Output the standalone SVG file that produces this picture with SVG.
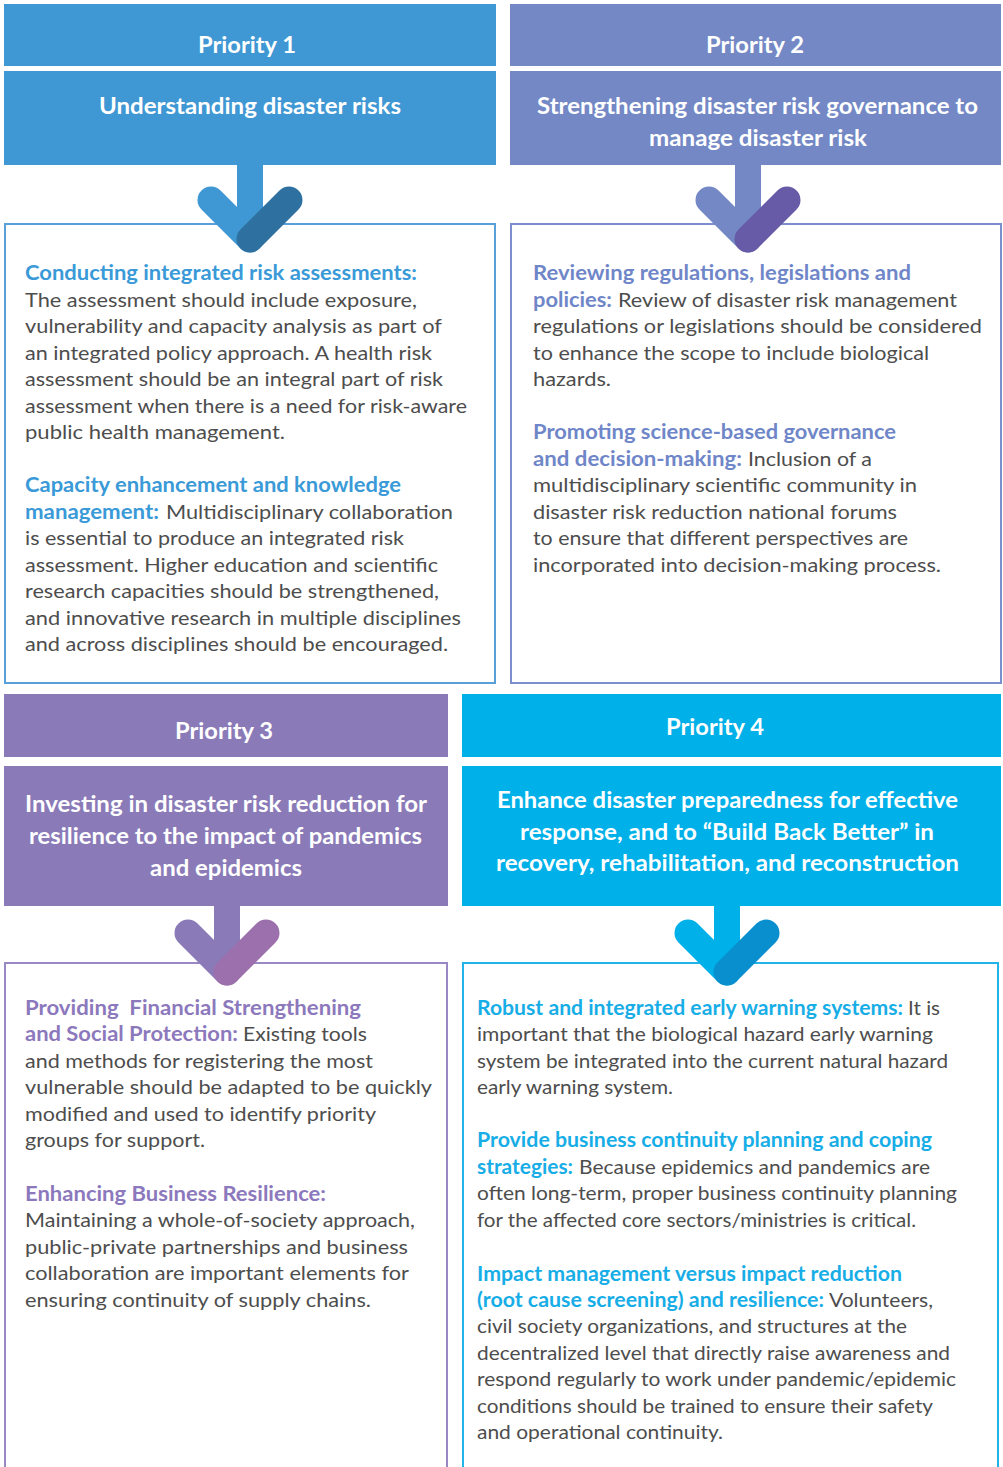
<svg xmlns="http://www.w3.org/2000/svg" width="1003" height="1467" viewBox="0 0 1003 1467">
<style>
text{font-family:Lato,"Noto Sans","Liberation Sans",sans-serif}
.h{font-weight:700;font-size:22px;fill:#ffffff}
.b{font-size:20px;fill:#4d4d4d}
.s{font-size:20px;font-weight:700}
.c1{fill:#3a9ad8}.c2{fill:#6f86c8}.c3{fill:#8c78bc}.c4{fill:#17ade6}
.box{fill:#ffffff;stroke-width:2}
.arm{fill:none;stroke-width:27;stroke-linecap:round;stroke-linejoin:round}
.stem{fill:none;stroke-width:26;stroke-linecap:butt}
</style>
<rect width="1003" height="1467" fill="#ffffff"/>

<g id="priority1">
<rect x="4" y="4" width="492" height="62" fill="#3f97d3"/>
<rect x="4" y="71" width="492" height="94" fill="#3f97d3"/>
<text class="h" x="198" y="53" textLength="98" lengthAdjust="spacingAndGlyphs">Priority 1</text>
<text class="h" x="99" y="114" textLength="302" lengthAdjust="spacingAndGlyphs">Understanding disaster risks</text>
<rect class="box" x="5" y="224" width="490" height="459" stroke="#5aa0d8"/>
<text class="s c1" x="25" y="280" textLength="392" lengthAdjust="spacingAndGlyphs">Conducting integrated risk assessments:</text>
<text class="b" x="25" y="307" textLength="392" lengthAdjust="spacingAndGlyphs">The assessment should include exposure,</text>
<text class="b" x="25" y="333" textLength="417" lengthAdjust="spacingAndGlyphs">vulnerability and capacity analysis as part of</text>
<text class="b" x="25" y="360" textLength="407" lengthAdjust="spacingAndGlyphs">an integrated policy approach. A health risk</text>
<text class="b" x="25" y="386" textLength="418" lengthAdjust="spacingAndGlyphs">assessment should be an integral part of risk</text>
<text class="b" x="25" y="413" textLength="442" lengthAdjust="spacingAndGlyphs">assessment when there is a need for risk-aware</text>
<text class="b" x="25" y="439" textLength="260" lengthAdjust="spacingAndGlyphs">public health management.</text>
<text class="s c1" x="25" y="492" textLength="376" lengthAdjust="spacingAndGlyphs">Capacity enhancement and knowledge</text>
<text class="s c1" x="25" y="519" textLength="134" lengthAdjust="spacingAndGlyphs">management:</text>
<text class="b" x="166" y="519" textLength="287" lengthAdjust="spacingAndGlyphs">Multidisciplinary collaboration</text>
<text class="b" x="25" y="545" textLength="379" lengthAdjust="spacingAndGlyphs">is essential to produce an integrated risk</text>
<text class="b" x="25" y="572" textLength="413" lengthAdjust="spacingAndGlyphs">assessment. Higher education and scientific</text>
<text class="b" x="25" y="598" textLength="414" lengthAdjust="spacingAndGlyphs">research capacities should be strengthened,</text>
<text class="b" x="25" y="625" textLength="436" lengthAdjust="spacingAndGlyphs">and innovative research in multiple disciplines</text>
<text class="b" x="25" y="651" textLength="423" lengthAdjust="spacingAndGlyphs">and across disciplines should be encouraged.</text>
</g>

<g id="priority2">
<rect x="510" y="4" width="491" height="62" fill="#7388c5"/>
<rect x="510" y="71" width="491" height="94" fill="#7388c5"/>
<text class="h" x="706" y="53" textLength="98" lengthAdjust="spacingAndGlyphs">Priority 2</text>
<text class="h" x="537" y="114" textLength="441" lengthAdjust="spacingAndGlyphs">Strengthening disaster risk governance to</text>
<text class="h" x="649" y="146" textLength="218" lengthAdjust="spacingAndGlyphs">manage disaster risk</text>
<rect class="box" x="511" y="224" width="490" height="459" stroke="#7a8fcb"/>
<text class="s c2" x="533" y="280" textLength="378" lengthAdjust="spacingAndGlyphs">Reviewing regulations, legislations and</text>
<text class="s c2" x="533" y="307" textLength="79" lengthAdjust="spacingAndGlyphs">policies:</text>
<text class="b" x="618" y="307" textLength="339" lengthAdjust="spacingAndGlyphs">Review of disaster risk management</text>
<text class="b" x="533" y="333" textLength="449" lengthAdjust="spacingAndGlyphs">regulations or legislations should be considered</text>
<text class="b" x="533" y="360" textLength="396" lengthAdjust="spacingAndGlyphs">to enhance the scope to include biological</text>
<text class="b" x="533" y="386" textLength="78" lengthAdjust="spacingAndGlyphs">hazards.</text>
<text class="s c2" x="533" y="439" textLength="363" lengthAdjust="spacingAndGlyphs">Promoting science-based governance</text>
<text class="s c2" x="533" y="466" textLength="209" lengthAdjust="spacingAndGlyphs">and decision-making:</text>
<text class="b" x="748" y="466" textLength="124" lengthAdjust="spacingAndGlyphs">Inclusion of a</text>
<text class="b" x="533" y="492" textLength="384" lengthAdjust="spacingAndGlyphs">multidisciplinary scientific community in</text>
<text class="b" x="533" y="519" textLength="364" lengthAdjust="spacingAndGlyphs">disaster risk reduction national forums</text>
<text class="b" x="533" y="545" textLength="375" lengthAdjust="spacingAndGlyphs">to ensure that different perspectives are</text>
<text class="b" x="533" y="572" textLength="408" lengthAdjust="spacingAndGlyphs">incorporated into decision-making process.</text>
</g>

<g id="priority3">
<rect x="4" y="694" width="444" height="63" fill="#8a7ab8"/>
<rect x="4" y="766" width="444" height="140" fill="#8a7ab8"/>
<text class="h" x="175" y="739" textLength="98" lengthAdjust="spacingAndGlyphs">Priority 3</text>
<text class="h" x="25" y="812" textLength="402" lengthAdjust="spacingAndGlyphs">Investing in disaster risk reduction for</text>
<text class="h" x="29" y="844" textLength="393" lengthAdjust="spacingAndGlyphs">resilience to the impact of pandemics</text>
<text class="h" x="150" y="876" textLength="152" lengthAdjust="spacingAndGlyphs">and epidemics</text>
<rect class="box" x="5" y="963" width="442" height="520" stroke="#9a88c4"/>
<text class="s c3" x="25" y="1015" textLength="336" lengthAdjust="spacingAndGlyphs">Providing&#160; Financial Strengthening</text>
<text class="s c3" x="25" y="1041" textLength="213" lengthAdjust="spacingAndGlyphs">and Social Protection:</text>
<text class="b" x="243" y="1041" textLength="124" lengthAdjust="spacingAndGlyphs">Existing tools</text>
<text class="b" x="25" y="1068" textLength="348" lengthAdjust="spacingAndGlyphs">and methods for registering the most</text>
<text class="b" x="25" y="1094" textLength="407" lengthAdjust="spacingAndGlyphs">vulnerable should be adapted to be quickly</text>
<text class="b" x="25" y="1121" textLength="351" lengthAdjust="spacingAndGlyphs">modified and used to identify priority</text>
<text class="b" x="25" y="1147" textLength="180" lengthAdjust="spacingAndGlyphs">groups for support.</text>
<text class="s c3" x="25" y="1201" textLength="301" lengthAdjust="spacingAndGlyphs">Enhancing Business Resilience:</text>
<text class="b" x="25" y="1227" textLength="390" lengthAdjust="spacingAndGlyphs">Maintaining a whole-of-society approach,</text>
<text class="b" x="25" y="1254" textLength="383" lengthAdjust="spacingAndGlyphs">public-private partnerships and business</text>
<text class="b" x="25" y="1280" textLength="384" lengthAdjust="spacingAndGlyphs">collaboration are important elements for</text>
<text class="b" x="25" y="1307" textLength="346" lengthAdjust="spacingAndGlyphs">ensuring continuity of supply chains.</text>
</g>

<g id="priority4">
<rect x="462" y="694" width="539" height="63" fill="#00b0e8"/>
<rect x="462" y="766" width="539" height="140" fill="#00b0e8"/>
<text class="h" x="666" y="735" textLength="98" lengthAdjust="spacingAndGlyphs">Priority 4</text>
<text class="h" x="497" y="808" textLength="461" lengthAdjust="spacingAndGlyphs">Enhance disaster preparedness for effective</text>
<text class="h" x="520" y="840" textLength="414" lengthAdjust="spacingAndGlyphs">response, and to “Build Back Better” in</text>
<text class="h" x="496" y="871" textLength="463" lengthAdjust="spacingAndGlyphs">recovery, rehabilitation, and reconstruction</text>
<rect class="box" x="463" y="963" width="535" height="520" stroke="#22b3e8"/>
<text class="s c4" x="477" y="1015" textLength="426" lengthAdjust="spacingAndGlyphs">Robust and integrated early warning systems:</text>
<text class="b" x="908" y="1015" textLength="32" lengthAdjust="spacingAndGlyphs">It is</text>
<text class="b" x="477" y="1041" textLength="456" lengthAdjust="spacingAndGlyphs">important that the biological hazard early warning</text>
<text class="b" x="477" y="1068" textLength="471" lengthAdjust="spacingAndGlyphs">system be integrated into the current natural hazard</text>
<text class="b" x="477" y="1094" textLength="196" lengthAdjust="spacingAndGlyphs">early warning system.</text>
<text class="s c4" x="477" y="1147" textLength="455" lengthAdjust="spacingAndGlyphs">Provide business continuity planning and coping</text>
<text class="s c4" x="477" y="1174" textLength="96" lengthAdjust="spacingAndGlyphs">strategies:</text>
<text class="b" x="579" y="1174" textLength="351" lengthAdjust="spacingAndGlyphs">Because epidemics and pandemics are</text>
<text class="b" x="477" y="1200" textLength="480" lengthAdjust="spacingAndGlyphs">often long-term, proper business continuity planning</text>
<text class="b" x="477" y="1227" textLength="439" lengthAdjust="spacingAndGlyphs">for the affected core sectors/ministries is critical.</text>
<text class="s c4" x="477" y="1281" textLength="425" lengthAdjust="spacingAndGlyphs">Impact management versus impact reduction</text>
<text class="s c4" x="477" y="1307" textLength="347" lengthAdjust="spacingAndGlyphs">(root cause screening) and resilience:</text>
<text class="b" x="829" y="1307" textLength="104" lengthAdjust="spacingAndGlyphs">Volunteers,</text>
<text class="b" x="477" y="1333" textLength="430" lengthAdjust="spacingAndGlyphs">civil society organizations, and structures at the</text>
<text class="b" x="477" y="1360" textLength="473" lengthAdjust="spacingAndGlyphs">decentralized level that directly raise awareness and</text>
<text class="b" x="477" y="1386" textLength="479" lengthAdjust="spacingAndGlyphs">respond regularly to work under pandemic/epidemic</text>
<text class="b" x="477" y="1413" textLength="456" lengthAdjust="spacingAndGlyphs">conditions should be trained to ensure their safety</text>
<text class="b" x="477" y="1439" textLength="246" lengthAdjust="spacingAndGlyphs">and operational continuity.</text>
</g>

<g id="connectors">
<g id="arrow1">
<path class="stem" d="M250 164V232" stroke="#3f97d3"/>
<path class="arm" d="M211 200L250 239" stroke="#3f97d3"/>
<path class="arm" d="M250 239L289 200" stroke="#2e71a0"/>
</g>
<g id="arrow2">
<path class="stem" d="M748 164V232" stroke="#7388c5"/>
<path class="arm" d="M709 200L748 239" stroke="#7388c5"/>
<path class="arm" d="M748 239L787 200" stroke="#675ba8"/>
</g>
<g id="arrow3">
<path class="stem" d="M227 905V965" stroke="#8a7ab8"/>
<path class="arm" d="M188 933L227 972" stroke="#8a7ab8"/>
<path class="arm" d="M227 972L266 933" stroke="#9c70ad"/>
</g>
<g id="arrow4">
<path class="stem" d="M727 905V965" stroke="#00b0e8"/>
<path class="arm" d="M688 933L727 972" stroke="#00b0e8"/>
<path class="arm" d="M727 972L766 933" stroke="#0a8fce"/>
</g>
</g>
</svg>
